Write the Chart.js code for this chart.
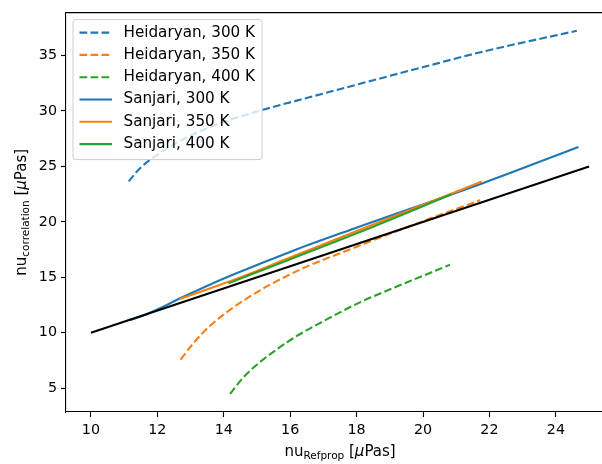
<!DOCTYPE html>
<html>
<head>
<meta charset="utf-8">
<script src="https://cdn.jsdelivr.net/npm/chart.js@4.4.0/dist/chart.umd.min.js"></script>
<style>
  html, body { margin: 0; padding: 0; overflow: hidden; background: #fff; }
  #wrap { width: 640px; height: 464px; }
</style>
</head>
<body>
<div id="wrap"><canvas id="chart" width="640" height="464"></canvas></div>
<script>
// Tick labels
const xTicks = [10, 12, 14, 16, 18, 20, 22, 24];
const yTicks = [5, 10, 15, 20, 25, 30, 35];

// Heidaryan correlation (dashed)
const heid300X = [11.14, 11.45, 11.98, 12.88, 13.89, 15.18, 16.60, 17.80, 19.81, 21.81, 24.63];
const heid300Y = [23.65, 24.75, 26.02, 27.60, 28.90, 30.10, 31.25, 32.21, 33.80, 35.35, 37.23];
const heid350X = [12.70, 13.10, 13.58, 14.59, 16.09, 18.00, 19.81, 21.72];
const heid350Y = [7.58, 9.10, 10.60, 12.89, 15.40, 17.75, 19.85, 21.95];
const heid400X = [14.19, 14.60, 15.09, 15.60, 16.09, 17.10, 18.10, 18.80, 20.81];
const heid400Y = [4.49, 6.00, 7.35, 8.50, 9.50, 11.20, 12.74, 13.65, 16.13];

// Sanjari correlation (solid)
const sanj300X = [11.17, 11.50, 12.08, 12.58, 13.08, 14.09, 15.00, 16.09, 17.95, 21.82, 24.68];
const sanj300Y = [11.12, 11.45, 12.20, 12.95, 13.65, 15.00, 16.10, 17.40, 19.42, 23.51, 26.75];
const sanj350X = [12.68, 14.59, 16.00, 18.10, 20.81, 21.77];
const sanj350Y = [13.04, 15.10, 16.79, 19.29, 22.48, 23.65];
const sanj400X = [14.14, 16.00, 18.10, 20.86];
const sanj400Y = [14.45, 16.63, 19.08, 22.48];

// Reference line y = x
const refX = [10, 25];
const refY = [10, 25];

const BLUE = '#1f77b4', ORANGE = '#ff7f0e', GREEN = '#2ca02c';
const FONT = 'DejaVu Sans';
const DASH = [7.7, 3.3];

function pairs(xs, ys) {
  return xs.map((x, i) => ({ x: x, y: ys[i] }));
}

function series(label, xs, ys, color, dashed, order) {
  return {
    label: label,
    data: pairs(xs, ys),
    borderColor: color,
    borderWidth: 2.1,
    borderDash: dashed ? DASH : [],
    pointRadius: 0,
    fill: false,
    cubicInterpolationMode: 'monotone',
    order: order
  };
}

const datasets = [
  series('Heidaryan, 300 K', heid300X, heid300Y, BLUE, true, 6),
  series('Heidaryan, 350 K', heid350X, heid350Y, ORANGE, true, 5),
  series('Heidaryan, 400 K', heid400X, heid400Y, GREEN, true, 4),
  series('Sanjari, 300 K', sanj300X, sanj300Y, BLUE, false, 3),
  series('Sanjari, 350 K', sanj350X, sanj350Y, ORANGE, false, 2),
  series('Sanjari, 400 K', sanj400X, sanj400Y, GREEN, false, 1),
  series('', refX, refY, '#000', false, 0)
];

// Draws text made of pieces (subscripts, italic) centred on x
function drawParts(ctx, parts, cx, cy) {
  let w = 0;
  parts.forEach(p => {
    ctx.font = (p.italic ? 'italic ' : '') + p.size + 'px ' + FONT;
    p.w = ctx.measureText(p.t).width;
    w += p.w;
  });
  let x = cx - w / 2;
  ctx.textAlign = 'left';
  ctx.textBaseline = 'alphabetic';
  ctx.fillStyle = '#000';
  parts.forEach(p => {
    ctx.font = (p.italic ? 'italic ' : '') + p.size + 'px ' + FONT;
    ctx.fillText(p.t, x, cy + (p.dy || 0));
    x += p.w;
  });
}

const extras = {
  id: 'extras',
  afterDraw(chart) {
    const ctx = chart.ctx;
    const a = chart.chartArea;
    ctx.save();

    // top and right spines
    ctx.strokeStyle = '#000';
    ctx.lineWidth = 1.1;
    ctx.beginPath();
    ctx.moveTo(a.left, a.top);
    ctx.lineTo(a.right, a.top);
    ctx.lineTo(a.right, a.bottom);
    ctx.stroke();

    // legend box
    const bx = a.left + 7, by = a.top + 7, bw = 189, bh = 140, r = 3;
    ctx.beginPath();
    ctx.moveTo(bx + r, by);
    ctx.arcTo(bx + bw, by, bx + bw, by + bh, r);
    ctx.arcTo(bx + bw, by + bh, bx, by + bh, r);
    ctx.arcTo(bx, by + bh, bx, by, r);
    ctx.arcTo(bx, by, bx + bw, by, r);
    ctx.closePath();
    ctx.fillStyle = 'rgba(255,255,255,0.8)';
    ctx.fill();
    ctx.strokeStyle = '#cccccc';
    ctx.lineWidth = 1;
    ctx.stroke();

    ctx.font = '15.2px ' + FONT;
    ctx.textBaseline = 'middle';
    ctx.textAlign = 'left';
    chart.data.datasets.filter(d => d.label).forEach((d, i) => {
      const y = by + 13 + i * 22.3;
      ctx.strokeStyle = d.borderColor;
      ctx.lineWidth = 2.1;
      ctx.setLineDash(d.borderDash);
      ctx.beginPath();
      ctx.moveTo(bx + 6.5, y);
      ctx.lineTo(bx + 39, y);
      ctx.stroke();
      ctx.setLineDash([]);
      ctx.fillStyle = '#000';
      ctx.fillText(d.label, bx + 50.5, y);
    });

    // axis titles
    drawParts(ctx, [
      { t: 'nu', size: 15 },
      { t: 'Refprop', size: 10.5, dy: 3 },
      { t: ' [', size: 15 },
      { t: 'μ', size: 15, italic: true },
      { t: 'Pas]', size: 15 }
    ], (a.left + a.right) / 2, 456);

    ctx.translate(26, (a.top + a.bottom) / 2);
    ctx.rotate(-Math.PI / 2);
    drawParts(ctx, [
      { t: 'nu', size: 15 },
      { t: 'correlation', size: 10.5, dy: 3 },
      { t: ' [', size: 15 },
      { t: 'μ', size: 15, italic: true },
      { t: 'Pas]', size: 15 }
    ], 0, 0);

    ctx.restore();
  }
};

const tickFont = { family: FONT, size: 14.3 };

const chart = new Chart(document.getElementById('chart'), {
  type: 'line',
  data: { datasets: datasets },
  options: {
    responsive: false,
    animation: false,
    layout: { padding: { top: 5, right: 26, left: 0, bottom: 0 } },
    plugins: { legend: { display: false }, tooltip: { enabled: false } },
    scales: {
      x: {
        type: 'linear',
        min: 9.25,
        max: 25.75,
        afterBuildTicks: s => { s.ticks = xTicks.map(v => ({ value: v })); },
        afterFit: s => { s.height = 52; },
        ticks: { font: tickFont, color: '#000', padding: 5, maxRotation: 0, autoSkip: false },
        grid: { drawOnChartArea: false, tickLength: 5, tickColor: '#000', tickWidth: 1.1 },
        border: { color: '#000', width: 1.1 }
      },
      y: {
        type: 'linear',
        min: 2.85,
        max: 38.87,
        afterBuildTicks: s => { s.ticks = yTicks.map(v => ({ value: v })); },
        afterFit: s => { s.width = 66; },
        ticks: { font: tickFont, color: '#000', padding: 4, autoSkip: false },
        grid: { drawOnChartArea: false, tickLength: 5, tickColor: '#000', tickWidth: 1.1 },
        border: { color: '#000', width: 1.1 }
      }
    }
  },
  plugins: [extras]
});
</script>
</body>
</html>
